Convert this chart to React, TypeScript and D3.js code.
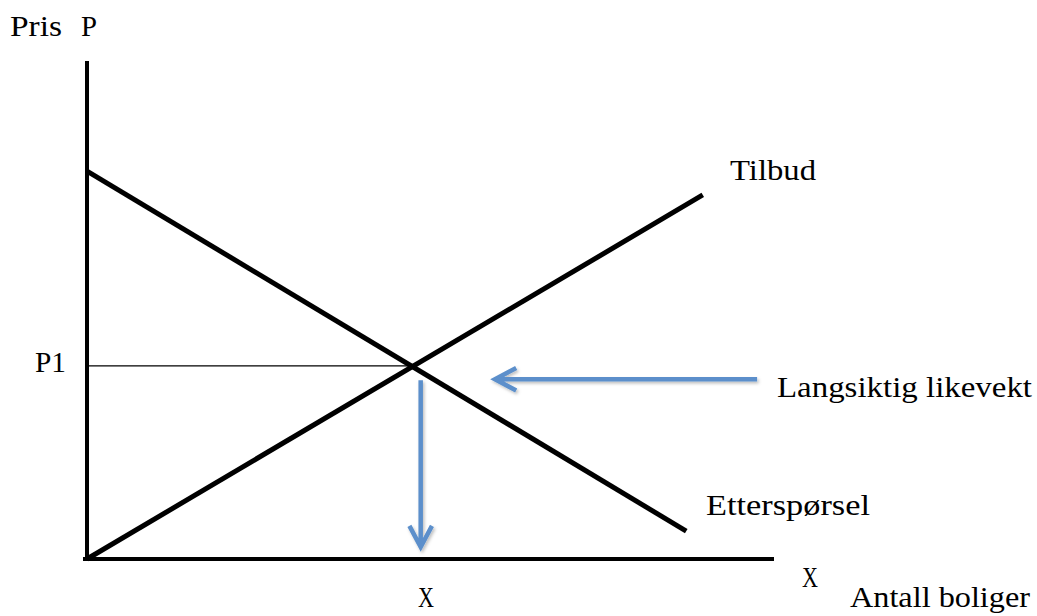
import React from "react";
import * as d3 from "d3";

const W = 1037;
const H = 616;

// abstract units 0..100 on both axes
const demandPts: [number, number][] = [[0, 77.9], [87.1, 5.6]];
const supplyPts: [number, number][] = [[0, 0], [89.5, 73.1]];
const equilibrium: [number, number] = [47.1, 38.8];
const arrowH: [number, number][] = [[97.4, 36.1], [59.3, 36.1]];
const arrowV: [number, number][] = [[48.5, 35.9], [48.5, 2.4]];

const labels = [
  { text: "Pris", x: 10, y: 36, len: 52 },
  { text: "P", x: 81, y: 36, len: 16 },
  { text: "Tilbud", x: 730, y: 180, len: 86 },
  { text: "Etterspørsel", x: 706, y: 515, len: 164 },
  { text: "Langsiktig likevekt", x: 777, y: 397, len: 255 },
  { text: "P1", x: 35, y: 372, len: 31 },
  { text: "X", x: 802, y: 587, len: 16 },
  { text: "X", x: 418, y: 607, len: 16 },
  { text: "Antall boliger", x: 850, y: 607, len: 180 },
];

const x = d3.scaleLinear().domain([0, 100]).range([87, 775]);
const y = d3.scaleLinear().domain([0, 100]).range([559, 61]);
const line = d3.line<[number, number]>().x((d) => x(d[0])).y((d) => y(d[1]));

const BLUE = "#5b8fcb";

function chevron(pts: [number, number][]) {
  const [a, b] = pts;
  const x0 = x(a[0]), y0 = y(a[1]), x1 = x(b[0]), y1 = y(b[1]);
  const ang = Math.atan2(y1 - y0, x1 - x0);
  const L = 24;
  const spread = (28 * Math.PI) / 180;
  const p1 = [x1 - L * Math.cos(ang - spread), y1 - L * Math.sin(ang - spread)];
  const p2 = [x1 - L * Math.cos(ang + spread), y1 - L * Math.sin(ang + spread)];
  return `M${x0},${y0}L${x1},${y1}M${p1[0]},${p1[1]}L${x1},${y1}L${p2[0]},${p2[1]}`;
}

export default function App() {
  return (
    <svg
      width={W}
      height={H}
      style={{ position: "absolute", left: 0, top: 0, background: "#fff" }}
    >
      <defs>
        <filter id="sh" x="-20%" y="-20%" width="140%" height="140%">
          <feDropShadow dx="1.5" dy="2" stdDeviation="1.5" floodColor="#000" floodOpacity="0.25" />
        </filter>
      </defs>
      {/* axes */}
      <line x1={x(0)} y1={61} x2={x(0)} y2={561} stroke="#000" strokeWidth={4} />
      <line x1={83} y1={y(0)} x2={774} y2={y(0)} stroke="#000" strokeWidth={4} />
      {/* P1 guide */}
      <line x1={x(0)} y1={y(equilibrium[1])} x2={x(equilibrium[0])} y2={y(equilibrium[1])} stroke="#000" strokeWidth={1.2} />
      {/* curves */}
      <path d={line(demandPts) || ""} stroke="#000" strokeWidth={5} fill="none" />
      <path d={line(supplyPts) || ""} stroke="#000" strokeWidth={5} fill="none" />
      {/* blue arrows */}
      <g filter="url(#sh)">
        <path d={chevron(arrowH)} stroke={BLUE} strokeWidth={4.5} fill="none" strokeLinejoin="miter" />
        <path d={chevron(arrowV)} stroke={BLUE} strokeWidth={4.5} fill="none" strokeLinejoin="miter" />
      </g>
      {labels.map((l, i) => (
        <text
          key={i}
          x={l.x}
          y={l.y}
          fontFamily="'Liberation Serif', 'DejaVu Serif', serif"
          fontSize={30}
          fill="#000"
          textLength={l.len}
          lengthAdjust="spacingAndGlyphs"
        >
          {l.text}
        </text>
      ))}
    </svg>
  );
}
